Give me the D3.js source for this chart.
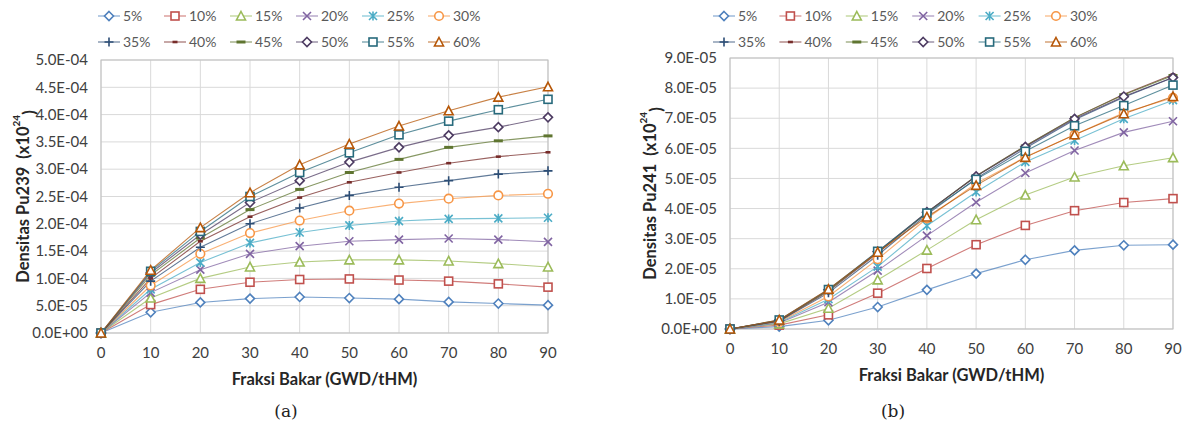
<!DOCTYPE html>
<html>
<head>
<meta charset="utf-8">
<script src="https://cdn.jsdelivr.net/npm/d3@7"></script>
<style>
  body { margin: 0; background: #fff; }
  text { font-family: Lato, "Open Sans", sans-serif; }
</style>
</head>
<body>
<svg id="chart" width="1184" height="430"></svg>
<script>
// burnup (GWD/tHM)
var burnup = [0, 10, 20, 30, 40, 50, 60, 70, 80, 90];
var seriesNames = ['5%', '10%', '15%', '20%', '25%', '30%', '35%', '40%', '45%', '50%', '55%', '60%'];

// Pu239 density, in units of 1E-04
var pu239 = [
    [0, 0.38, 0.56, 0.63, 0.66, 0.64, 0.62, 0.57, 0.54, 0.51],
    [0, 0.52, 0.80, 0.93, 0.98, 0.99, 0.97, 0.95, 0.90, 0.84],
    [0, 0.64, 1.00, 1.21, 1.30, 1.34, 1.34, 1.32, 1.27, 1.21],
    [0, 0.74, 1.16, 1.45, 1.59, 1.68, 1.71, 1.73, 1.71, 1.67],
    [0, 0.80, 1.29, 1.65, 1.84, 1.97, 2.05, 2.09, 2.10, 2.11],
    [0, 0.87, 1.45, 1.83, 2.06, 2.24, 2.37, 2.46, 2.52, 2.55],
    [0, 0.95, 1.57, 2.00, 2.29, 2.52, 2.67, 2.79, 2.91, 2.97],
    [0, 1.00, 1.68, 2.13, 2.48, 2.76, 2.94, 3.11, 3.23, 3.31],
    [0, 1.06, 1.74, 2.26, 2.63, 2.94, 3.18, 3.40, 3.52, 3.61],
    [0, 1.10, 1.80, 2.39, 2.79, 3.13, 3.40, 3.62, 3.77, 3.95],
    [0, 1.13, 1.86, 2.50, 2.94, 3.30, 3.63, 3.88, 4.09, 4.28],
    [0, 1.15, 1.93, 2.57, 3.08, 3.46, 3.79, 4.07, 4.32, 4.51]
];

// Pu241 density, in units of 1E-05
var pu241 = [
    [0, 0.08, 0.29, 0.73, 1.30, 1.84, 2.30, 2.61, 2.78, 2.80],
    [0, 0.13, 0.47, 1.19, 2.01, 2.80, 3.44, 3.93, 4.20, 4.33],
    [0, 0.17, 0.69, 1.63, 2.62, 3.63, 4.45, 5.05, 5.42, 5.69],
    [0, 0.20, 0.89, 1.94, 3.10, 4.21, 5.18, 5.93, 6.53, 6.90],
    [0, 0.22, 0.99, 2.07, 3.43, 4.55, 5.55, 6.26, 6.98, 7.60],
    [0, 0.24, 1.08, 2.32, 3.67, 4.83, 5.71, 6.45, 7.18, 7.68],
    [0, 0.26, 1.20, 2.45, 3.80, 5.00, 6.00, 6.95, 7.70, 8.35],
    [0, 0.27, 1.25, 2.52, 3.86, 5.08, 6.08, 7.02, 7.80, 8.45],
    [0, 0.28, 1.28, 2.55, 3.87, 5.08, 6.08, 7.02, 7.78, 8.42],
    [0, 0.29, 1.30, 2.57, 3.88, 5.07, 6.05, 6.98, 7.72, 8.35],
    [0, 0.30, 1.31, 2.58, 3.85, 4.97, 5.90, 6.75, 7.42, 8.10],
    [0, 0.30, 1.32, 2.55, 3.72, 4.77, 5.70, 6.45, 7.15, 7.72]
];

var colors = ['#4f81bd', '#c0504d', '#9bbb59', '#8064a2', '#4bacc6', '#f79646',
              '#2c4d75', '#772c2a', '#5f7530', '#4d3b62', '#276a7c', '#b65708'];
var markers = ['diamond', 'square', 'triangle', 'x', 'star', 'circle',
               'plus', 'dashS', 'dashL', 'diamond', 'square', 'triangle'];

var svg = d3.select('#chart');

function fmtE(v) {
    if (v === 0) return '0.0E+00';
    var parts = v.toExponential(1).split('e');
    var e = +parts[1];
    return parts[0] + 'E' + (e < 0 ? '-' : '+') + String(Math.abs(e)).padStart(2, '0');
}

function drawMarker(g, type, color) {
    var sw = 1.6;
    if (type == 'diamond') {
        g.append('path').attr('d', 'M0,-4.5L4.5,0L0,4.5L-4.5,0Z')
            .attr('fill', '#fff').attr('stroke', color).attr('stroke-width', sw);
    } else if (type == 'square') {
        g.append('rect').attr('x', -4).attr('y', -4).attr('width', 8).attr('height', 8)
            .attr('fill', '#fff').attr('stroke', color).attr('stroke-width', sw);
    } else if (type == 'triangle') {
        g.append('path').attr('d', 'M0,-4.5L4.5,4L-4.5,4Z')
            .attr('fill', '#fff').attr('stroke', color).attr('stroke-width', sw);
    } else if (type == 'circle') {
        g.append('circle').attr('r', 4.3)
            .attr('fill', '#fff').attr('stroke', color).attr('stroke-width', sw);
    } else if (type == 'x') {
        g.append('path').attr('d', 'M-4,-4L4,4M-4,4L4,-4')
            .attr('stroke', color).attr('stroke-width', sw);
    } else if (type == 'star') {
        g.append('path').attr('d', 'M-4,-4L4,4M-4,4L4,-4M0,-4.5L0,4.5')
            .attr('stroke', color).attr('stroke-width', sw);
    } else if (type == 'plus') {
        g.append('path').attr('d', 'M-4.5,0L4.5,0M0,-4.5L0,4.5')
            .attr('stroke', color).attr('stroke-width', sw);
    } else if (type == 'dashS') {
        g.append('path').attr('d', 'M-2.5,0L2.5,0')
            .attr('stroke', color).attr('stroke-width', 2.6);
    } else if (type == 'dashL') {
        g.append('path').attr('d', 'M-4.5,0L4.5,0')
            .attr('stroke', color).attr('stroke-width', 3);
    }
}

function draw(p) {
    var x = d3.scaleLinear().domain([0, 90]).range([p.left, p.right]);
    var y = d3.scaleLinear().domain([0, p.ymax]).range([p.bottom, p.top]);
    var yTicks = y.ticks(10);

    var g = svg.append('g');

    // grid
    g.selectAll('line.hgrid').data(yTicks).enter().append('line')
        .attr('x1', p.left).attr('x2', p.right)
        .attr('y1', function(d) { return y(d); }).attr('y2', function(d) { return y(d); })
        .attr('stroke', '#d9d9d9');
    g.selectAll('line.vgrid').data(burnup).enter().append('line')
        .attr('y1', p.top).attr('y2', p.bottom)
        .attr('x1', function(d) { return x(d); }).attr('x2', function(d) { return x(d); })
        .attr('stroke', '#d9d9d9');
    g.append('rect').attr('x', p.left).attr('y', p.top)
        .attr('width', p.right - p.left).attr('height', p.bottom - p.top)
        .attr('fill', 'none').attr('stroke', '#bfbfbf');

    // tick labels
    g.selectAll('text.ytick').data(yTicks).enter().append('text')
        .attr('x', p.left - 13).attr('y', function(d) { return y(d); })
        .attr('dy', '0.35em').attr('text-anchor', 'end')
        .attr('font-size', 15).attr('fill', '#404040')
        .text(fmtE);
    g.selectAll('text.xtick').data(burnup).enter().append('text')
        .attr('x', function(d) { return x(d); }).attr('y', p.bottom + 20)
        .attr('dy', '0.35em').attr('text-anchor', 'middle')
        .attr('font-size', 15).attr('fill', '#404040')
        .text(function(d) { return d; });

    // axis titles
    g.append('text').attr('x', (p.left + p.right) / 2).attr('y', p.bottom + 46)
        .attr('dy', '0.35em').attr('text-anchor', 'middle')
        .attr('font-size', 16.5).attr('font-weight', 'bold').attr('fill', '#262626')
        .text('Fraksi Bakar (GWD/tHM)');
    var yt = g.append('text')
        .attr('transform', 'translate(' + p.titleX + ',' + ((p.top + p.bottom) / 2) + ') rotate(-90)')
        .attr('dy', '0.35em').attr('text-anchor', 'middle')
        .attr('font-size', 16.5).attr('font-weight', 'bold').attr('fill', '#262626');
    yt.append('tspan').text(p.title + '\u00a0\u00a0(x10');
    yt.append('tspan').attr('font-size', 10).attr('dy', '-0.9em').text('24');
    yt.append('tspan').attr('dy', '0.9em').text(')');

    g.append('text').attr('x', p.captionX).attr('y', 411)
        .attr('dy', '0.35em').attr('text-anchor', 'middle')
        .style('font-family', '"DejaVu Serif", serif').attr('font-size', 17).attr('fill', '#222')
        .text(p.caption);

    // lines + markers
    var line = d3.line()
        .x(function(d, i) { return x(burnup[i]); })
        .y(function(d) { return y(d * p.unit); });

    p.data.forEach(function(vals, s) {
        g.append('path').attr('d', line(vals))
            .attr('fill', 'none').attr('stroke', colors[s])
            .attr('stroke-width', 1.1).attr('stroke-opacity', 0.75);
    });
    p.data.forEach(function(vals, s) {
        vals.forEach(function(v, i) {
            var m = g.append('g').attr('transform', 'translate(' + x(burnup[i]) + ',' + y(v * p.unit) + ')');
            drawMarker(m, markers[s], colors[s]);
        });
    });

    // legend
    seriesNames.forEach(function(name, s) {
        var lx = p.legendX + (s % 6) * p.legendStep;
        var ly = s < 6 ? 16 : 42;
        var lg = g.append('g').attr('transform', 'translate(' + lx + ',' + ly + ')');
        lg.append('line').attr('x1', 0).attr('x2', 22).attr('y1', 0).attr('y2', 0)
            .attr('stroke', colors[s]).attr('stroke-width', 1.1).attr('stroke-opacity', 0.75);
        var m = lg.append('g').attr('transform', 'translate(11,0)');
        drawMarker(m, markers[s], colors[s]);
        lg.append('text').attr('x', 25).attr('y', 0).attr('dy', '0.35em')
            .attr('font-size', 14).attr('fill', '#595959').text(name);
    });
}

draw({data: pu239, unit: 1e-4, ymax: 5e-4, left: 101, right: 548, top: 60, bottom: 333,
      title: 'Densitas Pu239', titleX: 23, caption: '(a)', captionX: 286,
      legendX: 98, legendStep: 66});
draw({data: pu241, unit: 1e-5, ymax: 9e-5, left: 730, right: 1173, top: 58, bottom: 329,
      title: 'Densitas Pu241', titleX: 650, caption: '(b)', captionX: 893,
      legendX: 713, legendStep: 66.4});
</script>
</body>
</html>
